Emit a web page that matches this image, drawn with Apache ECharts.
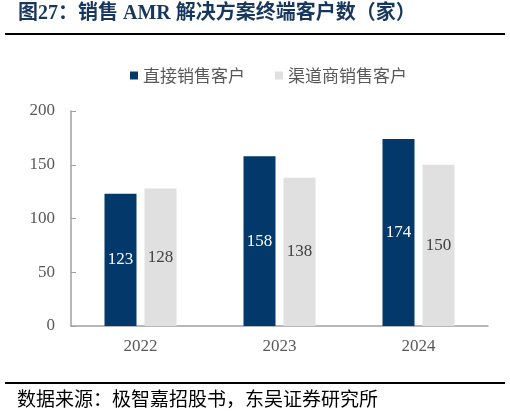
<!DOCTYPE html>
<html>
<head>
<meta charset="utf-8">
<script src="https://cdn.jsdelivr.net/npm/echarts@6/dist/echarts.min.js"></script>
<style>
html,body{margin:0;padding:0;background:#fff;}
#main{width:510px;height:414px;}
</style>
</head>
<body>
<div id="main"></div>
<script>
var categories = ['2022', '2023', '2024'];
var directSales = [123, 158, 174];
var channelSales = [128, 138, 150];
var seriesNames = ['直接销售客户', '渠道商销售客户'];
var titleText = '图27：销售 AMR 解决方案终端客户数（家）';
var sourceText = '数据来源：极智嘉招股书，东吴证券研究所';

var chart = echarts.init(document.getElementById('main'));
var serif = '"Liberation Serif", "Noto Sans CJK SC", serif';
var cjk = '"Noto Sans CJK SC", sans-serif';

chart.setOption({
  animation: false,
  backgroundColor: '#fff',
  graphic: [
    { type: 'text', left: 18, top: 4,
      style: { text: titleText, fill: '#17375e', font: 'bold 20px "Liberation Serif", "Noto Sans CJK SC", serif' } },
    { type: 'line', shape: { x1: 5, y1: 34, x2: 505, y2: 34 },
      style: { stroke: '#000', lineWidth: 2 } },
    { type: 'line', shape: { x1: 5, y1: 383, x2: 505, y2: 383 },
      style: { stroke: '#000', lineWidth: 2 } },
    { type: 'text', left: 17, top: 389,
      style: { text: sourceText, fill: '#000', font: '19px "Noto Sans CJK SC", sans-serif' } }
  ],
  legend: {
    top: 62,
    left: 125,
    icon: 'rect',
    itemWidth: 8,
    itemHeight: 8,
    itemGap: 30,
    textStyle: { fontFamily: cjk, fontSize: 17, color: '#595959' },
    data: seriesNames
  },
  grid: { left: 71, right: 22, top: 111, bottom: 88, containLabel: false },
  xAxis: {
    type: 'category',
    data: categories,
    axisLine: { lineStyle: { color: '#a0a0a0', width: 1.5 } },
    axisTick: { show: false },
    axisLabel: { fontFamily: serif, fontSize: 17, color: '#595959', margin: 12 }
  },
  yAxis: {
    type: 'value',
    min: 0, max: 200, interval: 50,
    axisLine: { show: true, lineStyle: { color: '#a0a0a0', width: 1.5 } },
    axisTick: { show: true, inside: true, length: 5, lineStyle: { color: '#a0a0a0' } },
    splitLine: { show: false },
    axisLabel: { fontFamily: serif, fontSize: 17, color: '#595959', margin: 16 }
  },
  series: [
    {
      name: seriesNames[0], type: 'bar', data: directSales,
      barWidth: 32, barGap: '25%',
      itemStyle: { color: '#02386a' },
      label: { show: true, position: 'inside', fontFamily: serif, fontSize: 17, color: '#fff' }
    },
    {
      name: seriesNames[1], type: 'bar', data: channelSales,
      barWidth: 32,
      itemStyle: { color: '#e0e0e0' },
      label: { show: true, position: 'inside', fontFamily: serif, fontSize: 17, color: '#404040' }
    }
  ]
});
</script>
</body>
</html>
